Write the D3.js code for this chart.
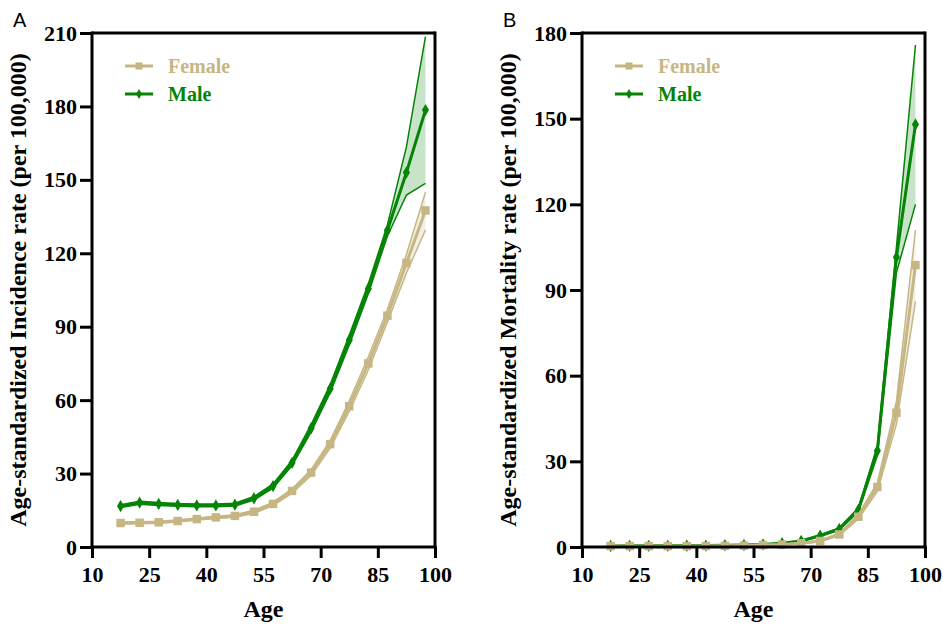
<!DOCTYPE html>
<html>
<head>
<meta charset="utf-8">
<script src="https://cdn.jsdelivr.net/npm/d3@7"></script>
<style>
  html, body { margin: 0; padding: 0; background: #fff; }
  svg { display: block; }
  .serif { font-family: "Liberation Serif", "Times New Roman", serif; font-weight: bold; }
</style>
</head>
<body>
<svg id="chart" width="943" height="625"></svg>
<script>
// ---- data ----
const ages = [17.5, 22.5, 27.5, 32.5, 37.5, 42.5, 47.5, 52.5, 57.5, 62.5, 67.5, 72.5, 77.5, 82.5, 87.5, 92.5, 97.5];
const xTicks = [10, 25, 40, 55, 70, 85, 100];

// Panel A: incidence
const incFemale      = [9.8, 9.9, 10.1, 10.6, 11.4, 12.1, 12.7, 14.4, 17.6, 22.9, 30.4, 42.0, 57.5, 75.0, 94.5, 116.0, 137.5];
const incFemaleLower = [9.4, 9.5, 9.7, 10.2, 11.0, 11.6, 12.2, 13.8, 16.9, 22.0, 29.2, 40.4, 55.4, 72.3, 91.8, 112.0, 129.5];
const incFemaleUpper = [10.2, 10.3, 10.5, 11.0, 11.8, 12.6, 13.2, 15.0, 18.3, 23.8, 31.6, 43.6, 59.6, 77.7, 97.0, 119.5, 145.0];
const incMale        = [16.7, 18.1, 17.6, 17.2, 17.0, 17.0, 17.3, 19.9, 24.9, 34.4, 48.5, 64.7, 84.5, 105.5, 129.3, 153.0, 178.5];
const incMaleLower   = [16.1, 17.5, 17.0, 16.6, 16.4, 16.4, 16.7, 19.2, 24.0, 33.3, 47.0, 63.0, 82.5, 103.5, 127.0, 143.8, 148.6];
const incMaleUpper   = [17.3, 18.7, 18.2, 17.8, 17.6, 17.6, 17.9, 20.6, 25.8, 35.5, 50.0, 66.4, 86.5, 107.5, 131.5, 163.5, 208.5];
const incTicks = [0, 30, 60, 90, 120, 150, 180, 210];

// Panel B: mortality
const morFemale      = [0.3, 0.3, 0.3, 0.3, 0.3, 0.35, 0.4, 0.5, 0.7, 0.9, 1.3, 2.1, 4.4, 10.6, 21.0, 47.0, 98.7];
const morFemaleLower = [0.25, 0.25, 0.25, 0.25, 0.25, 0.3, 0.35, 0.45, 0.6, 0.8, 1.1, 1.9, 4.0, 9.8, 19.5, 43.0, 86.0];
const morFemaleUpper = [0.35, 0.35, 0.35, 0.35, 0.35, 0.4, 0.45, 0.55, 0.8, 1.0, 1.5, 2.3, 4.8, 11.4, 22.5, 51.0, 111.0];
const morMale        = [0.35, 0.4, 0.4, 0.4, 0.45, 0.5, 0.6, 0.7, 0.9, 1.3, 2.1, 4.0, 6.3, 13.0, 33.7, 101.5, 148.0];
const morMaleLower   = [0.3, 0.35, 0.35, 0.35, 0.4, 0.45, 0.55, 0.65, 0.8, 1.2, 1.9, 3.7, 5.9, 12.3, 32.0, 96.0, 120.0];
const morMaleUpper   = [0.4, 0.45, 0.45, 0.45, 0.5, 0.55, 0.65, 0.75, 1.0, 1.4, 2.3, 4.3, 6.7, 13.7, 35.5, 105.0, 175.8];
const morTicks = [0, 30, 60, 90, 120, 150, 180];

const seriesNames = ["Female", "Male"];
const colors = { Female: "#c6b683", Male: "#058405" };
const bandFill = { Female: "rgba(198,182,131,0.22)", Male: "rgba(5,132,5,0.22)" };

// ---- drawing ----
const svg = d3.select("#chart");
const H = { top: 33, bottom: 547 };

function panel(opts) {
  const g = svg.append("g");
  const x = d3.scaleLinear().domain([10, 100]).range([opts.left, opts.left + 343]);
  const y = d3.scaleLinear().domain([0, opts.yMax]).range([H.bottom, H.top]);

  // series (male first, female on top)
  const order = ["Male", "Female"];
  order.forEach(name => {
    const s = opts.series[name];
    const pts = ages.map((a, i) => ({ a, v: s.v[i], lo: s.lo[i], hi: s.hi[i] }));
    g.append("path")
      .attr("d", d3.area().x(d => x(d.a)).y0(d => y(d.lo)).y1(d => y(d.hi))(pts))
      .attr("fill", bandFill[name]).attr("stroke", "none");
    ["lo", "hi"].forEach(k => {
      g.append("path")
        .attr("d", d3.line().x(d => x(d.a)).y(d => y(d[k]))(pts))
        .attr("fill", "none").attr("stroke", colors[name]).attr("stroke-width", 1.5);
    });
    g.append("path")
      .attr("d", d3.line().x(d => x(d.a)).y(d => y(d.v))(pts))
      .attr("fill", "none").attr("stroke", colors[name]).attr("stroke-width", 3);
    const sym = name === "Female" ? d3.symbol().type(d3.symbolSquare).size(72)
                                  : d3.symbol().type(d3.symbolDiamond).size(44);
    g.selectAll(null).data(pts).enter().append("path")
      .attr("d", sym)
      .attr("transform", d => `translate(${x(d.a)},${y(d.v)})`)
      .attr("fill", colors[name]);
  });

  // frame top and right
  g.append("line").attr("x1", x(10)).attr("x2", x(100)).attr("y1", H.top).attr("y2", H.top)
    .attr("stroke", "#000").attr("stroke-width", 3);
  g.append("line").attr("x1", x(100)).attr("x2", x(100)).attr("y1", H.top - 1.5).attr("y2", H.bottom)
    .attr("stroke", "#000").attr("stroke-width", 3);

  // axes
  const ya = g.append("g").attr("transform", `translate(${x(10)},0)`)
    .call(d3.axisLeft(y).tickValues(opts.ticks).tickSize(12).tickSizeOuter(0).tickPadding(3));
  const xa = g.append("g").attr("transform", `translate(0,${H.bottom})`)
    .call(d3.axisBottom(x).tickValues(xTicks).tickSize(11).tickSizeOuter(0).tickPadding(8));
  [ya, xa].forEach(ax => {
    ax.select(".domain").attr("stroke", "#000").attr("stroke-width", 3);
    ax.selectAll(".tick line").attr("stroke", "#000").attr("stroke-width", 3);
    ax.selectAll(".tick text").attr("class", "serif").attr("font-size", 22).attr("fill", "#000");
  });
  ya.select(".domain").attr("d", `M0,${H.bottom + 1.5}V${H.top - 1.5}`);
  xa.select(".domain").attr("d", `M${x(10) - 1.5},0H${x(100) + 1.5}`);

  // axis titles
  g.append("text").attr("class", "serif").attr("font-size", 24)
    .attr("transform", `translate(${opts.left - 66},${(H.top + H.bottom) / 2}) rotate(-90)`)
    .attr("text-anchor", "middle").text(opts.yTitle);
  g.append("text").attr("class", "serif").attr("font-size", 24)
    .attr("x", (x(10) + x(100)) / 2).attr("y", 617).attr("text-anchor", "middle").text("Age");

  // panel letter
  g.append("text").attr("x", opts.left - 79).attr("y", 27)
    .attr("font-family", "Liberation Sans, Arial, sans-serif").attr("font-size", 20)
    .text(opts.letter);

  // legend
  seriesNames.forEach((name, i) => {
    const ly = 66 + i * 28;
    const lx = opts.left + 33;
    g.append("line").attr("x1", lx).attr("x2", lx + 28).attr("y1", ly).attr("y2", ly)
      .attr("stroke", colors[name]).attr("stroke-width", 3);
    const sym = name === "Female" ? d3.symbol().type(d3.symbolSquare).size(49)
                                  : d3.symbol().type(d3.symbolDiamond).size(30);
    g.append("path").attr("d", sym).attr("transform", `translate(${lx + 14},${ly})`)
      .attr("fill", colors[name]);
    g.append("text").attr("class", "serif").attr("font-size", 20)
      .attr("x", lx + 43).attr("y", ly + 7).attr("fill", colors[name]).text(name);
  });
}

panel({
  left: 92, yMax: 210, ticks: incTicks, letter: "A",
  yTitle: "Age-standardized Incidence rate (per 100,000)",
  series: {
    Female: { v: incFemale, lo: incFemaleLower, hi: incFemaleUpper },
    Male: { v: incMale, lo: incMaleLower, hi: incMaleUpper }
  }
});
panel({
  left: 582, yMax: 180, ticks: morTicks, letter: "B",
  yTitle: "Age-standardized Mortality rate (per 100,000)",
  series: {
    Female: { v: morFemale, lo: morFemaleLower, hi: morFemaleUpper },
    Male: { v: morMale, lo: morMaleLower, hi: morMaleUpper }
  }
});
</script>
</body>
</html>
